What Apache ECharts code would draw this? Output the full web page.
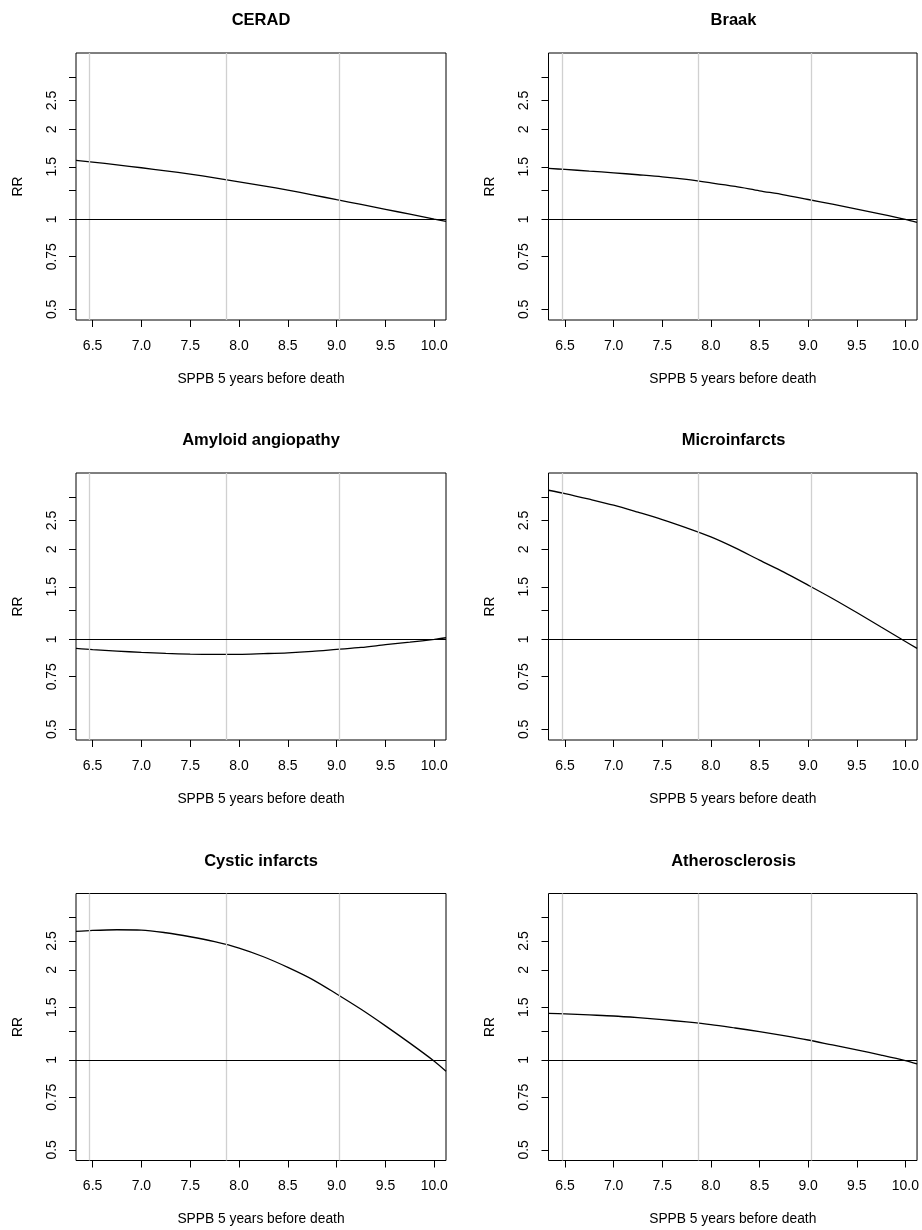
<!DOCTYPE html>
<html>
<head>
<meta charset="utf-8">
<script src="https://cdn.jsdelivr.net/npm/echarts@6/dist/echarts.min.js"></script>
<style>
html,body{margin:0;padding:0;background:#ffffff;}
#chart{width:922px;height:1230px;}
</style>
</head>
<body>
<div id="chart"></div>
<script>
// ---- data ----
const panelTitles = ["CERAD", "Braak", "Amyloid angiopathy", "Microinfarcts", "Cystic infarcts", "Atherosclerosis"];
const sppb       = [6.33, 6.5, 6.75, 7.0, 7.25, 7.5, 7.75, 8.0, 8.25, 8.5, 8.75, 9.0, 9.25, 9.5, 9.75, 10.0, 10.12];
const ceradRR    = [1.575, 1.555, 1.523, 1.489, 1.454, 1.418, 1.378, 1.336, 1.296, 1.253, 1.209, 1.164, 1.122, 1.081, 1.041, 1.002, 0.985];
const braakRR    = [1.481, 1.470, 1.451, 1.432, 1.411, 1.389, 1.361, 1.326, 1.289, 1.247, 1.209, 1.166, 1.125, 1.083, 1.042, 1.000, 0.977];
const amyloidRR  = [0.933, 0.924, 0.914, 0.905, 0.898, 0.893, 0.891, 0.891, 0.896, 0.902, 0.912, 0.926, 0.940, 0.960, 0.979, 1.000, 1.013];
const microRR    = [3.157, 3.077, 2.946, 2.813, 2.665, 2.519, 2.363, 2.204, 2.025, 1.842, 1.679, 1.519, 1.371, 1.230, 1.100, 0.984, 0.933];
const cysticRR   = [2.692, 2.713, 2.727, 2.721, 2.665, 2.584, 2.487, 2.368, 2.215, 2.041, 1.861, 1.662, 1.477, 1.300, 1.138, 0.990, 0.916];
const atheroRR   = [1.432, 1.425, 1.414, 1.403, 1.385, 1.364, 1.340, 1.313, 1.279, 1.244, 1.206, 1.166, 1.122, 1.080, 1.038, 0.995, 0.970];
const quantileLines = [6.466, 7.873, 9.026];
const referenceRR = 1;
const xTicks = [6.5, 7.0, 7.5, 8.0, 8.5, 9.0, 9.5, 10.0];
const yTicks = [0.5, 0.75, 1, 1.25, 1.5, 2, 2.5, 3];
const yTickLabels = [0.5, 0.75, 1, 1.5, 2, 2.5];
const xName = "SPPB 5 years before death";
const yName = "RR";

const seriesValues = [ceradRR, braakRR, amyloidRR, microRR, cysticRR, atheroRR];

// ---- layout ----
const FONT = '"Liberation Sans", Arial, Helvetica, sans-serif';
const colLeft = [76, 548.5];
const rowTop = [53, 473, 893.5];
const W = 370, H = 267;
const xMin = 6.33, xMax = 10.12;
const yMin = 0.4606, yMax = 3.606;

const grids = [], xAxes = [], yAxes = [], series = [], titles = [];
panelTitles.forEach((t, i) => {
  const col = i % 2, row = Math.floor(i / 2);
  grids.push({
    left: colLeft[col], top: rowTop[row], width: W, height: H,
    show: true, borderColor: '#000', borderWidth: 1, backgroundColor: 'transparent',
    containLabel: false
  });
  titles.push({
    text: t, left: colLeft[col] + W / 2, top: rowTop[row] - 41, textAlign: 'center', padding: 0,
    textStyle: { fontFamily: FONT, fontSize: 16.5, fontWeight: 'bold', color: '#000' }
  });
  xAxes.push({
    gridIndex: i, type: 'value', min: xMin, max: xMax,
    name: xName, nameLocation: 'middle', nameGap: 52,
    nameTextStyle: { fontFamily: FONT, fontSize: 13.8, color: '#000' },
    axisLine: { show: false },
    axisTick: { show: true, inside: false, length: 7, customValues: xTicks, lineStyle: { color: '#000', width: 1 } },
    axisLabel: { show: true, margin: 19, customValues: xTicks, fontFamily: FONT, fontSize: 14, color: '#000',
      formatter: v => Number(v).toFixed(1) },
    splitLine: { show: false }
  });
  yAxes.push({
    gridIndex: i, type: 'log', logBase: 10, min: yMin, max: yMax,
    name: yName, nameLocation: 'middle', nameGap: 51, nameRotate: 90,
    nameTextStyle: { fontFamily: FONT, fontSize: 13.8, color: '#000' },
    axisLine: { show: false },
    axisTick: { show: true, inside: false, length: 7, customValues: yTicks, lineStyle: { color: '#000', width: 1 } },
    axisLabel: { show: true, rotate: 90, margin: 17, customValues: yTickLabels, fontFamily: FONT, fontSize: 14, color: '#000',
      formatter: v => String(v) },
    splitLine: { show: false }
  });
  // reference lines
  series.push({
    type: 'line', xAxisIndex: i, yAxisIndex: i, data: [], z: 1, silent: true,
    markLine: {
      silent: true, symbol: 'none', animation: false, label: { show: false },
      data: quantileLines.map(q => ({ xAxis: q, lineStyle: { color: '#d0d0d0', width: 1.3, type: 'solid' } }))
        .concat([{ yAxis: referenceRR, lineStyle: { color: '#000', width: 1, type: 'solid' } }])
    }
  });
  series.push({
    type: 'line', xAxisIndex: i, yAxisIndex: i, z: 3,
    data: sppb.map((x, k) => [x, seriesValues[i][k]]),
    smooth: 0.3, symbol: 'none', showSymbol: false, clip: true,
    lineStyle: { color: '#000', width: 1.3 }
  });
});

const chart = echarts.init(document.getElementById('chart'), null, { renderer: 'canvas' });
chart.setOption({
  animation: false,
  backgroundColor: '#ffffff',
  title: titles,
  grid: grids,
  xAxis: xAxes,
  yAxis: yAxes,
  series: series
});
</script>
</body>
</html>
